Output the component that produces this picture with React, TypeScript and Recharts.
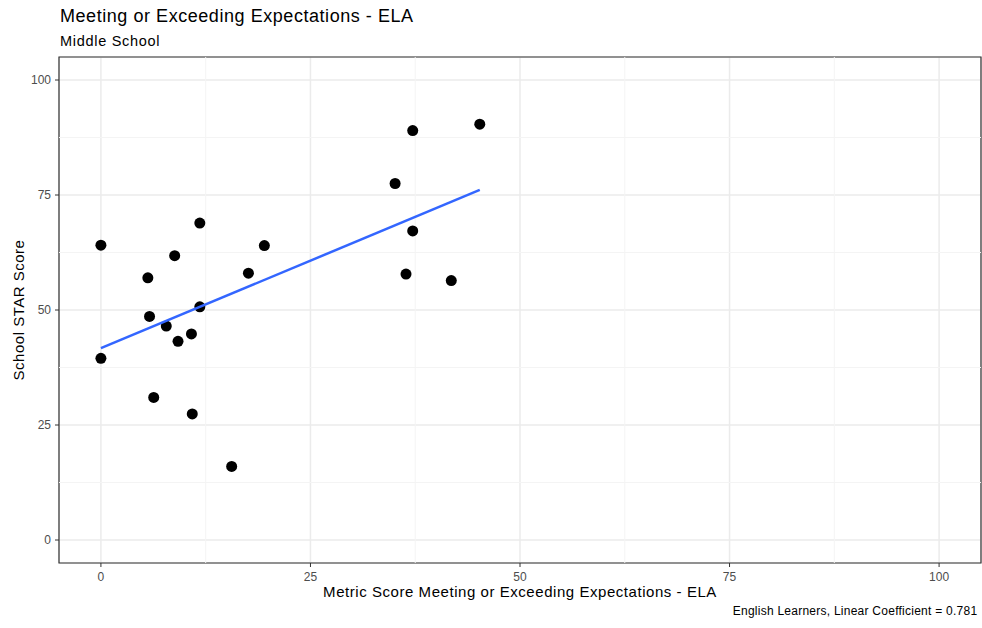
import { ScatterChart, Scatter, XAxis, YAxis, CartesianGrid, ReferenceLine, ReferenceArea } from "recharts";

// school points (metric score, STAR score)
const metricScore = [0, 0, 5.6, 5.8, 6.3, 7.8, 8.8, 9.2, 10.8, 10.9, 11.8, 11.8, 15.6, 17.6, 19.5, 35.1, 36.4, 37.2, 37.2, 41.8, 45.2];
const starScore = [64.1, 39.5, 57.0, 48.6, 31.0, 46.5, 61.8, 43.2, 44.8, 27.4, 68.9, 50.7, 16.0, 58.0, 64.0, 77.5, 57.8, 89.0, 67.2, 56.4, 90.4];

// fitted line ends
const fitX = [0, 45.2];
const fitY = [41.7, 76.1];

const axisTicks = [0, 25, 50, 75, 100];
const minorTicks = [12.5, 37.5, 62.5, 87.5];

const points = metricScore.map((x, i) => ({ x, y: starScore[i] }));
const fit = fitX.map((x, i) => ({ x, y: fitY[i] }));

const font = "'Liberation Sans', Arial, sans-serif";

const dot = (p: any) => <circle cx={p.cx} cy={p.cy} r={5.5} fill="#000" />;
const noDot = () => <g />;

export default function App() {
  return (
    <div style={{ position: "absolute", left: 0, top: 0, width: 982, height: 628, background: "#fff", fontFamily: font }}>
      <div style={{ position: "absolute", left: 60, top: 6, fontSize: 18, lineHeight: "21px", letterSpacing: 0.55, color: "#000", whiteSpace: "nowrap" }}>
        Meeting or Exceeding Expectations - ELA
      </div>
      <div style={{ position: "absolute", left: 60, top: 32.5, fontSize: 14.5, lineHeight: "17px", letterSpacing: 0.7, color: "#000", whiteSpace: "nowrap" }}>
        Middle School
      </div>
      <ScatterChart width={982} height={628} margin={{ top: 57, right: 1, left: 0, bottom: 0 }} style={{ position: "absolute", left: 0, top: 0, fontFamily: font }}>
        {minorTicks.map(v => (
          <ReferenceLine key={`mx${v}`} x={v} stroke="#f4f4f4" strokeWidth={1} />
        ))}
        {minorTicks.map(v => (
          <ReferenceLine key={`my${v}`} y={v} stroke="#f4f4f4" strokeWidth={1} />
        ))}
        <CartesianGrid stroke="#ebebeb" strokeWidth={1.5} />
        <XAxis
          type="number" dataKey="x" domain={[-5, 105]} ticks={axisTicks} height={65}
          axisLine={false} tickSize={4} tickMargin={5}
          tickLine={{ stroke: "#333" }} tick={{ fill: "#4d4d4d", fontSize: 12 }}
          label={{ value: "Metric Score Meeting or Exceeding Expectations - ELA", position: "insideBottom", offset: 31, fill: "#000", fontSize: 15, style: { letterSpacing: "0.55px" } }}
        />
        <YAxis
          type="number" dataKey="y" domain={[-5, 105]} ticks={axisTicks} width={59}
          axisLine={false} tickSize={4} tickMargin={4}
          tickLine={{ stroke: "#333" }} tick={{ fill: "#4d4d4d", fontSize: 12 }}
          label={{ value: "School STAR Score", angle: -90, position: "insideLeft", offset: 19, fill: "#000", fontSize: 15, style: { textAnchor: "middle", letterSpacing: "0.5px" } }}
        />
        <Scatter data={points} shape={dot} isAnimationActive={false} />
        <Scatter data={fit} line={{ stroke: "#3366FF", strokeWidth: 2.5 }} shape={noDot} isAnimationActive={false} />
        <ReferenceArea x1={-5} x2={105} y1={-5} y2={105} fill="none" stroke="#333" strokeWidth={1.2} />
      </ScatterChart>
      <div style={{ position: "absolute", right: 4.7, top: 604, fontSize: 12, lineHeight: "14px", letterSpacing: 0.25, color: "#000", whiteSpace: "nowrap" }}>
        English Learners, Linear Coefficient = 0.781
      </div>
    </div>
  );
}
